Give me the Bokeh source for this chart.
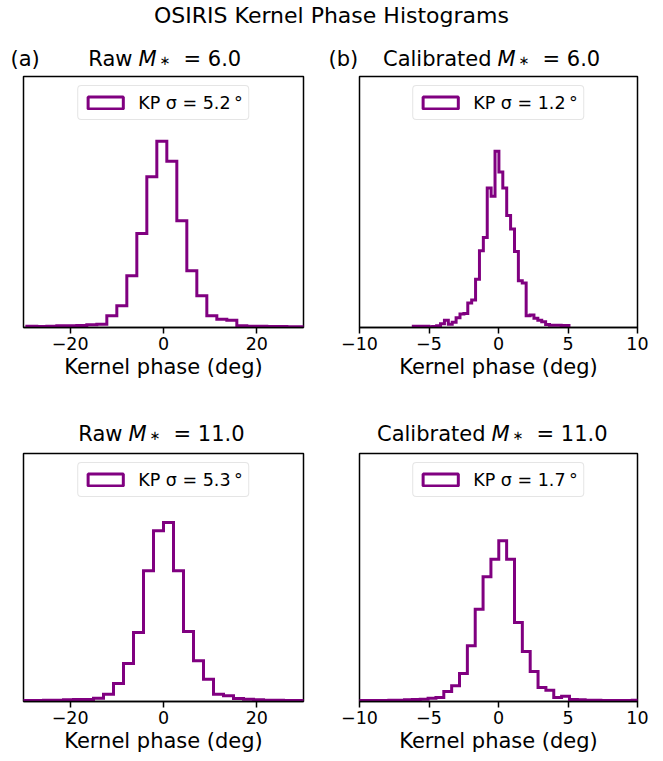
from bokeh.plotting import figure
from bokeh.models import Label, Legend, LegendItem, FixedTicker, Range1d, Div
from bokeh.layouts import column, row
from bokeh.embed import file_html
from bokeh.resources import INLINE

FONT = "DejaVu Sans"
PURPLE = "#800080"
NAN = float("nan")

# ---------------- data (histogram counts, equal-width bins) ----------------
raw6_start = -29.29
raw6_width = 2.143
raw6_counts = [4, 3, 4, 5, 5, 6, 8, 10, 35, 65, 155, 282, 452, 558, 498,
               320, 170, 95, 35, 25, 22, 5, 4, 4, 3, 3, 2, 2, 1, 1]

cal6_start = -6.13
cal6_width = 0.28
cal6_counts = [4, 4, 4, 4, 2, 3, 5, 11, 22, 10, 16, 29, 40, 42, 73, 82, 144,
               229, 269, 417, 392, 527, 465, 417, 335, 294, 227, 140, 133, 35,
               37, 28, 22, 17, 9, 7, 7, 7, 6, 6]

raw11_start = -32.14
raw11_width = 2.143
raw11_counts = [3, 3, 3, 4, 4, 5, 6, 6, 10, 22, 54, 114, 207, 392, 512, 537,
                392, 210, 122, 67, 22, 17, 9, 7, 5, 4, 4, 3, 3, 2]

cal11_start = -10.715
cal11_width = 0.565
cal11_counts = [3, 3, 3, 3, 3, 4, 4, 5, 6, 7, 10, 12, 30, 47, 84, 167, 277,
                374, 427, 482, 427, 237, 150, 90, 42, 34, 12, 16, 6, 5, 4, 4,
                3, 3, 3, 3, 4]

kinds = ["Raw", "Calibrated", "Raw", "Calibrated"]
mstars = ["6.0", "6.0", "11.0", "11.0"]
sigmas = ["5.2", "1.2", "5.3", "1.7"]
tags = ["(a)", "(b)", "", ""]
raw_ticks = [-20, 0, 20]
cal_ticks = [-10, -5, 0, 5, 10]
raw_xlim = (-30, 30)
cal_xlim = (-10, 10)
y_tops = [752, 750, 744, 744]
main_title = "OSIRIS Kernel Phase Histograms"
x_label = "Kernel phase (deg)"


def fmt_tick(t):
    return "\u2212" + str(abs(t)) if t < 0 else str(t)


def make_panel(start, width, counts, ticks, xlim, ytop, sigma,
               left, right, top, bottom, fw, fh):
    n = len(counts)
    edges = [start + width * i for i in range(n + 1)]
    xs = [edges[0]]
    ys = [0]
    for i, c in enumerate(counts):
        xs += [edges[i], edges[i + 1]]
        ys += [c, c]
    xs.append(edges[-1])
    ys.append(0)

    p = figure(frame_width=fw, frame_height=fh,
               min_border_left=left, min_border_right=right,
               min_border_top=top, min_border_bottom=bottom,
               x_range=Range1d(*xlim), y_range=Range1d(0, ytop),
               y_axis_location=None, output_backend="svg",
               toolbar_location=None, background_fill_color="white",
               border_fill_color="white")
    p.xgrid.visible = False
    p.ygrid.visible = False
    p.outline_line_color = "black"
    p.outline_line_width = 1.5

    p.line(xs, ys, line_color=PURPLE, line_width=3, line_join="miter")

    ax = p.xaxis[0]
    ax.ticker = FixedTicker(ticks=ticks)
    ax.major_label_overrides = {t: fmt_tick(t) for t in ticks}
    ax.major_tick_out = 6
    ax.major_tick_in = 0
    ax.minor_tick_out = 0
    ax.minor_tick_in = 0
    ax.major_tick_line_width = 1.5
    ax.major_tick_line_color = "black"
    ax.axis_line_width = 1.5
    ax.axis_line_color = "black"
    ax.major_label_text_font = FONT
    ax.major_label_text_font_size = "17.5px"
    ax.major_label_text_color = "black"
    ax.major_label_standoff = 3
    ax.axis_label = x_label
    ax.axis_label_text_font = FONT
    ax.axis_label_text_font_size = "21px"
    ax.axis_label_text_font_style = "normal"
    ax.axis_label_text_color = "black"
    ax.axis_label_standoff = 2

    # legend patch: an outlined box (renderer with no visible data)
    dummy = p.quad(left=[NAN], right=[NAN], top=[NAN], bottom=[NAN],
                   line_color=PURPLE, line_width=3, fill_color="white",
                   fill_alpha=0)
    leg = Legend(items=[LegendItem(label=f"KP \u03c3 = {sigma}\u2009\u00b0",
                                   renderers=[dummy])],
                 location="top_center", orientation="vertical",
                 margin=9, padding=5, glyph_width=44, glyph_height=15,
                 label_standoff=11, label_height=23,
                 label_text_font=FONT, label_text_font_size="17.5px",
                 label_text_color="black",
                 border_line_color="#cccccc", border_line_width=1.2,
                 background_fill_color="white", background_fill_alpha=0.8)
    if "border_radius" in Legend.properties():
        leg.border_radius = 4
    p.add_layout(leg)
    return p


def make_strip(w, h, pieces):
    s = figure(width=w, height=h, x_range=Range1d(0, w), y_range=Range1d(0, h),
               min_border=0, x_axis_location=None, y_axis_location=None,
               outline_line_color=None, toolbar_location=None,
               output_backend="svg", background_fill_color="white",
               border_fill_color="white")
    for g in s.grid:
        g.visible = False
    for text, x, y, size, style, align in pieces:
        s.add_layout(Label(x=x, y=y, text=text, text_font=FONT,
                           text_font_size=size, text_font_style=style,
                           text_align=align, text_baseline="alphabetic",
                           text_color="black"))
    return s


def title_pieces(kind, mstar, m_x, base, tag=None, tag_x=0):
    pcs = [(kind, m_x - 6, base, "21px", "normal", "right"),
           ("M", m_x, base, "21px", "italic", "left"),
           ("\u2217", m_x + 21, base - 1.5, "13px", "normal", "left"),
           ("= " + mstar, m_x + 45, base, "21px", "normal", "left")]
    if tag:
        pcs.append((tag, tag_x, base, "21px", "normal", "left"))
    return pcs


pA = make_panel(raw6_start, raw6_width, raw6_counts, raw_ticks, raw_xlim, y_tops[0],
                sigmas[0], left=23, right=10, top=2, bottom=65, fw=280, fh=251)
pB = make_panel(cal6_start, cal6_width, cal6_counts, cal_ticks, cal_xlim, y_tops[1],
                sigmas[1], left=46, right=26, top=2, bottom=65, fw=278, fh=251)
pC = make_panel(raw11_start, raw11_width, raw11_counts, raw_ticks, raw_xlim, y_tops[2],
                sigmas[2], left=23, right=10, top=2, bottom=60, fw=280, fh=248)
pD = make_panel(cal11_start, cal11_width, cal11_counts, cal_ticks, cal_xlim, y_tops[3],
                sigmas[3], left=46, right=26, top=2, bottom=60, fw=278, fh=248)

sA = make_strip(313, 44, title_pieces(kinds[0], mstars[0], 138, 15.5, tags[0], 10))
sB = make_strip(350, 44, title_pieces(kinds[1], mstars[1], 184, 15.5, tags[1], 15))
sC = make_strip(313, 59, title_pieces(kinds[2], mstars[2], 128, 18))
sD = make_strip(350, 59, title_pieces(kinds[3], mstars[3], 178, 18))

title_div = Div(
    text=('<div style="font-family:\'DejaVu Sans\';font-size:22px;line-height:1;'
          'text-align:center;color:black;padding-top:5px;width:663px;">'
          + main_title + '</div>'),
    width=663, height=30, margin=0)

layout = column(title_div, row(sA, sB), row(pA, pB), row(sC, sD), row(pC, pD))

open("out.html", "w").write(file_html(layout, INLINE))
